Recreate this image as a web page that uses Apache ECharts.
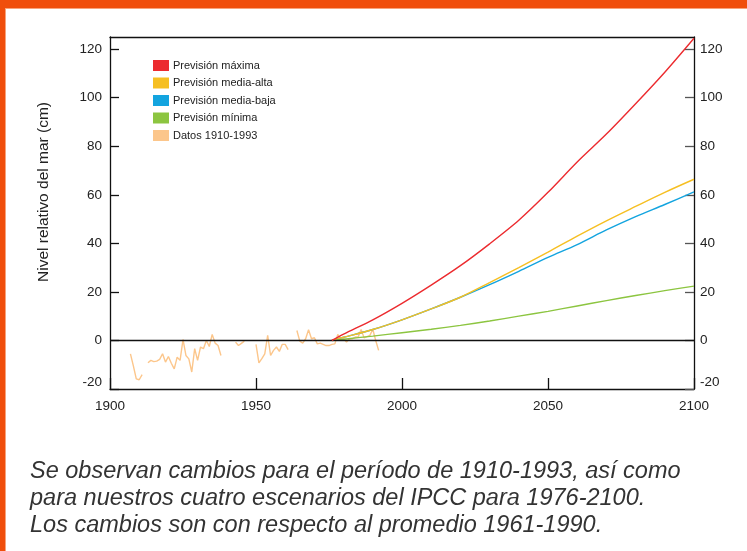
<!DOCTYPE html>
<html>
<head>
<meta charset="utf-8">
<script src="https://cdn.jsdelivr.net/npm/echarts@6/dist/echarts.min.js"></script>
<style>
html,body{margin:0;padding:0;background:#fff;}
#chart{width:747px;height:551px;}
</style>
</head>
<body>
<div id="chart"></div>
<script>
// ---- Data ----
const projYears = [1976, 1980, 1990, 2000, 2010, 2020, 2030, 2040, 2050, 2060, 2070, 2080, 2090, 2100];
const prevMaxima    = [0, 2.6, 8.5, 15.3, 22.8, 30.8, 39.8, 49.5, 61, 73.5, 85, 97.5, 110.5, 124.5];
const prevMediaAlta = [0, 1.3, 4.5, 8.5, 13, 17.8, 23.8, 30, 36.4, 43, 49.3, 55.2, 61, 66.4];
const prevMediaBaja = [0, 1.3, 4.5, 8.5, 13, 17.8, 23, 28.5, 34.2, 39.5, 45.5, 51, 56, 61.2];
const prevMinima    = [0, 0.5, 1.8, 3.2, 4.6, 6.2, 8, 10, 12, 14.2, 16.4, 18.5, 20.5, 22.4];

const obsYears = [1907,1908,1909,1910,1911,1912,1913,1914,1915,1916,1917,1918,1919,1920,1921,1922,1923,1924,1925,1926,1927,1928,1929,1930,1931,1932,1933,1934,1935,1936,1937,1938,1939,1940,1941,1942,1943,1944,1945,1946,1947,1948,1949,1950,1951,1952,1953,1954,1955,1956,1957,1958,1959,1960,1961,1962,1963,1964,1965,1966,1967,1968,1969,1970,1971,1972,1973,1974,1975,1976,1977,1978,1979,1980,1981,1982,1983,1984,1985,1986,1987,1988,1989,1990,1991,1992];
const obsValues = [-5.5,-10.5,-15.8,-16.2,-14.1,null,-9.2,-8.2,-8.7,-8.5,-7.8,-5.5,-8.9,-6.6,-9.4,-11.7,-6.9,-8.2,0.4,-6.2,-7.6,-13,-3.4,-8.2,-2.7,-3.4,0,-2.5,2.5,-1.1,-2.1,-6.2,null,null,null,null,-0.7,-2.1,-1.2,-0.3,null,null,null,-1.6,-9.2,-7.5,-5.5,2.1,-6.2,-4.1,-2.7,-4.5,-1.6,-1.6,-3.8,null,null,4.1,-0.3,-1.1,0.7,4.4,0.7,1.1,-1.4,-1.1,-1.6,-2.1,-2.1,-1.6,-1.4,2.5,0,0.7,-0.7,0.7,0.7,1.4,1.4,4.5,1.1,1.6,2.1,4.6,0,-4.1];

const xTicks = [1900, 1950, 2000, 2050, 2100];
const yTicks = [-20, 0, 20, 40, 60, 80, 100, 120];

const seriesNames = ['Previsión máxima', 'Previsión media-alta', 'Previsión media-baja', 'Previsión mínima', 'Datos 1910-1993'];
const seriesColors = ['#ec2b2f', '#f6bf22', '#13a4df', '#8cc540', '#fcc68b'];

const captionLines = [
  'Se observan cambios para el período de 1910-1993, así como',
  'para nuestros cuatro escenarios del IPCC para 1976-2100.',
  'Los cambios son con respecto al promedio 1961-1990.'
];
const yAxisTitle = 'Nivel relativo del mar (cm)';

// ---- Build ----
const pair = (xs, ys) => xs.map((x, i) => [x, ys[i]]);
const FONT = "'Liberation Sans', Arial, sans-serif";
const TICK_FS = 13.5;

const chart = echarts.init(document.getElementById('chart'), null, {renderer: 'canvas'});

function yFmt(v) {
  if (yTicks.indexOf(v) < 0) return '';
  if (v === -20) return '{low|' + v + '}';
  return String(v);
}

const projData = [prevMaxima, prevMediaAlta, prevMediaBaja, prevMinima];

const series = projData.map((vals, i) => ({
  name: seriesNames[i],
  type: 'line',
  data: pair(projYears, vals),
  showSymbol: false,
  smooth: 0.3,
  lineStyle: {width: 1.4, color: seriesColors[i]},
  itemStyle: {color: seriesColors[i]},
  z: 5 - i
}));
series.push({
  name: seriesNames[4],
  type: 'line',
  data: pair(obsYears, obsValues),
  showSymbol: false,
  connectNulls: false,
  lineStyle: {width: 1.4, color: seriesColors[4]},
  itemStyle: {color: seriesColors[4]},
  z: 1,
  markLine: {
    silent: true,
    symbol: 'none',
    label: {show: false},
    lineStyle: {color: '#111', width: 1.3, type: 'solid'},
    data: [{yAxis: 0}]
  }
});

const rich = {low: {padding: [0, 0, 14, 0], fontFamily: FONT, fontSize: TICK_FS, color: '#222'}};

const option = {
  backgroundColor: '#fff',
  animation: false,
  grid: {left: 110, right: 53, top: 37, bottom: 162, containLabel: false},
  legend: {
    orient: 'vertical',
    left: 153,
    top: 60,
    padding: 0,
    itemWidth: 16,
    itemHeight: 11,
    itemGap: 6.5,
    icon: 'rect',
    textStyle: {fontSize: 11, color: '#222', fontFamily: FONT, padding: [0, 0, 0, -1]},
    data: seriesNames.map((n, i) => ({name: n, itemStyle: {color: seriesColors[i]}}))
  },
  xAxis: [{
    type: 'value', min: 1900, max: 2100, interval: 50, position: 'bottom',
    axisLine: {show: true, onZero: false, lineStyle: {color: '#111', width: 1.3}},
    axisTick: {show: true, inside: true, length: 11, lineStyle: {color: '#111', width: 1.3}},
    axisLabel: {color: '#222', fontSize: TICK_FS, fontFamily: FONT, margin: 10,
      formatter: v => xTicks.indexOf(v) >= 0 ? String(v) : ''},
    splitLine: {show: false}
  }, {
    type: 'value', min: 1900, max: 2100, position: 'top',
    axisLine: {show: true, onZero: false, lineStyle: {color: '#111', width: 1.3}},
    axisTick: {show: false}, axisLabel: {show: false}, splitLine: {show: false}
  }],
  yAxis: [{
    type: 'value', min: -20, max: 125, interval: 20, position: 'left',
    axisLine: {show: true, onZero: false, lineStyle: {color: '#111', width: 1.3}},
    axisTick: {show: true, inside: true, length: 9, lineStyle: {color: '#111', width: 1.3}},
    axisLabel: {color: '#222', fontSize: TICK_FS, fontFamily: FONT, margin: 8, showMaxLabel: false, formatter: yFmt, rich: rich},
    splitLine: {show: false}
  }, {
    type: 'value', min: -20, max: 125, interval: 20, position: 'right',
    axisLine: {show: true, onZero: false, lineStyle: {color: '#111', width: 1.3}},
    axisTick: {show: true, inside: true, length: 9, lineStyle: {color: '#555', width: 1.3}},
    axisLabel: {color: '#222', fontSize: TICK_FS, fontFamily: FONT, margin: 6, showMaxLabel: false, formatter: yFmt, rich: rich},
    splitLine: {show: false}
  }],
  series: series,
  graphic: [
    {type: 'rect', left: 0, top: 0, shape: {width: 747, height: 8}, style: {fill: '#f04e0c'}, silent: true},
    {type: 'rect', left: 0, top: 8, shape: {width: 747, height: 1}, style: {fill: '#f7a37c'}, silent: true},
    {type: 'rect', left: 0, top: 0, shape: {width: 5, height: 551}, style: {fill: '#f04e0c'}, silent: true},
    {type: 'rect', left: 5, top: 9, shape: {width: 1, height: 542}, style: {fill: '#f7a37c'}, silent: true},
    {type: 'text', x: 44, y: 192, rotation: Math.PI / 2, silent: true,
      style: {text: yAxisTitle, fill: '#222', font: '15.5px ' + FONT, align: 'center', verticalAlign: 'middle'}}
  ].concat(captionLines.map((t, i) => ({
    type: 'text', left: 30, top: 460 + i * 27, silent: true,
    style: {text: t, fill: '#333', font: 'italic 23.5px ' + FONT}
  })))
};

chart.setOption(option);
</script>
</body>
</html>
